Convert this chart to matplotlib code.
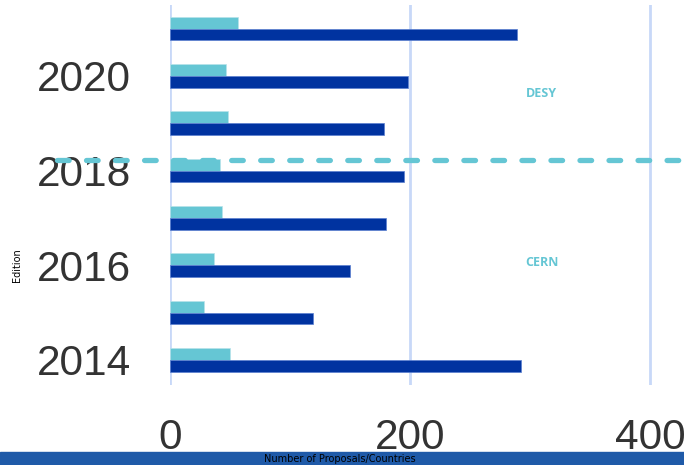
import matplotlib.pyplot as plt
from matplotlib.patches import Rectangle
import numpy as np

# data
editions = [2014, 2015, 2016, 2017, 2018, 2019, 2020, 2021]
proposals = [292, 119, 150, 180, 195, 178, 198, 289]
countries = [50, 28, 37, 43, 42, 48, 47, 57]

teal = "#65c6d4"
navy = "#0033a0"

fig = plt.figure(figsize=(6.84, 4.65), dpi=100)
ax = fig.add_axes([170/684, 80/465, 514/684, 380/465])

y = np.arange(len(editions))
h = 0.25
ax.barh(y + h/2, countries, height=h, color=teal, edgecolor="#b8e3ea", linewidth=0.5, zorder=3)
ax.barh(y - h/2, proposals, height=h, color=navy, edgecolor="#5a7fd0", linewidth=0.5, zorder=3)

ax.set_xlim(0, 428)
ax.set_ylim(-0.53, 7.5)
ax.set_xticks([0, 200, 400])
ax.set_yticks([0, 2, 4, 6])
ax.set_yticklabels(["2014", "2016", "2018", "2020"])
ax.tick_params(length=0, labelsize=30.5, labelcolor="#333333", pad=28)
ax.tick_params(axis="x", pad=24)
for lab in ax.get_xticklabels() + ax.get_yticklabels():
    lab.set_family("Liberation Sans")

ax.grid(axis="x", color="#c8d8f8", linewidth=2, zorder=0)
for s in ax.spines.values():
    s.set_visible(False)

# separator between CERN and DESY editions
ax.plot([-94, 430], [4.23, 4.23], color=teal, linewidth=3.8, linestyle=(0, (2.2, 3.3)),
        dash_capstyle="round", clip_on=False, zorder=4)
ax.text(296, 5.64, "DESY", color=teal, fontsize=9, fontweight="bold", va="center", family="Open Sans")
ax.text(296, 2.05, "CERN", color=teal, fontsize=9, fontweight="bold", va="center", family="Open Sans")

# bottom band with axis title
fig.patches.append(Rectangle((0, 0), 1, 13/465, transform=fig.transFigure, color="#1f5aa8", zorder=0))
fig.text(340/684, 6/465, "Number of Proposals/Countries", ha="center", va="center", fontsize=7, color="black")
fig.text(17/684, 200/465, "Edition", rotation=90, ha="center", va="center", fontsize=7, color="black")

fig.savefig("out.png", dpi=100)
